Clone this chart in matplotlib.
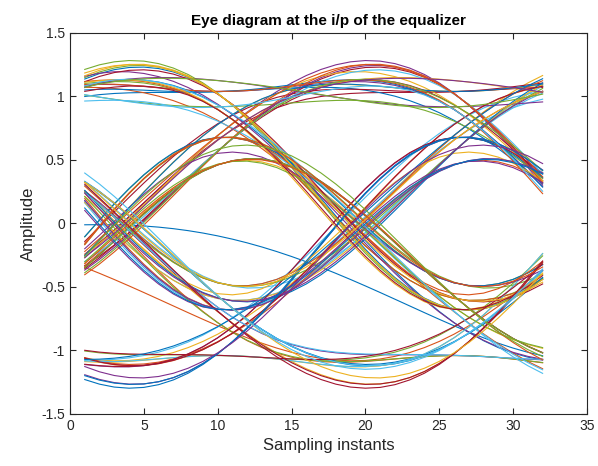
import numpy as np
import matplotlib
matplotlib.use('Agg')
import matplotlib.pyplot as plt

# transmitted bits (0 -> -1, 1 -> +1)
bits = ("001101001110110001011100101101000111011010011000101111001010110110"
        "1001110100011011001011110100100111")
# symbol-spaced channel taps: pre-cursors, main tap, post-cursors
channel = [0.04, 0.07, 0.8, 0.15, -0.06]
rolloff = 0.42
sps = 16             # samples per symbol
first_center = 26.5  # sample where the first symbol peaks
win = 32             # samples per eye trace

colors = ['#0072BD', '#D95319', '#EDB120', '#7E2F8E', '#77AC30', '#4DBEEE', '#A2142F']


def rc(t):
    t = np.asarray(t, float) / sps
    den = 1 - (2 * rolloff * t) ** 2
    bad = np.abs(den) < 1e-8
    out = np.sinc(t) * np.cos(np.pi * rolloff * t) / np.where(bad, 1, den)
    return np.where(bad, np.pi / 4 * np.sinc(1 / (2 * rolloff)), out)


def pulse(t):
    mid = len(channel) // 2
    return sum(c * rc(t - sps * (j - mid)) for j, c in enumerate(channel))


sym = np.array([1.0 if b == '1' else -1.0 for b in bits])
n = np.arange(1, int(first_center) + sps * len(sym) + 1)
y = np.zeros(len(n))
for k, a in enumerate(sym):
    y += a * pulse(n - first_center - sps * k)

last = int(first_center) + sps * (len(sym) - 1) - 2 * sps
n_traces = (last - win) // sps + 1

plt.rcParams['font.family'] = ['Liberation Sans', 'DejaVu Sans']
plt.rcParams['axes.unicode_minus'] = False

fig = plt.figure(figsize=(5.98, 4.66), dpi=100)
ax = fig.add_axes([0.117, 0.1116, 0.8645, 0.8176])
x = np.arange(1, win + 1)
for i in range(n_traces):
    ax.plot(x, y[sps * i: sps * i + win], color=colors[i % len(colors)], lw=0.8)

ax.set_xlim(0, 35)
ax.set_ylim(-1.5, 1.5)
ax.set_xticks(np.arange(0, 36, 5))
ax.set_yticks([-1.5, -1, -0.5, 0, 0.5, 1, 1.5])
ax.set_yticklabels(['-1.5', '-1', '-0.5', '0', '0.5', '1', '1.5'])
ax.tick_params(direction='in', top=True, right=True, labelsize=10, colors='#262626', length=4)
for s in ax.spines.values():
    s.set_color('#262626')
    s.set_linewidth(0.8)
ax.set_title('Eye diagram at the i/p of the equalizer', fontsize=11, fontweight='bold')
ax.set_xlabel('Sampling instants', fontsize=12, color='#262626')
ax.set_ylabel('Amplitude', fontsize=12, color='#262626')

fig.savefig('out.png', dpi=100)
